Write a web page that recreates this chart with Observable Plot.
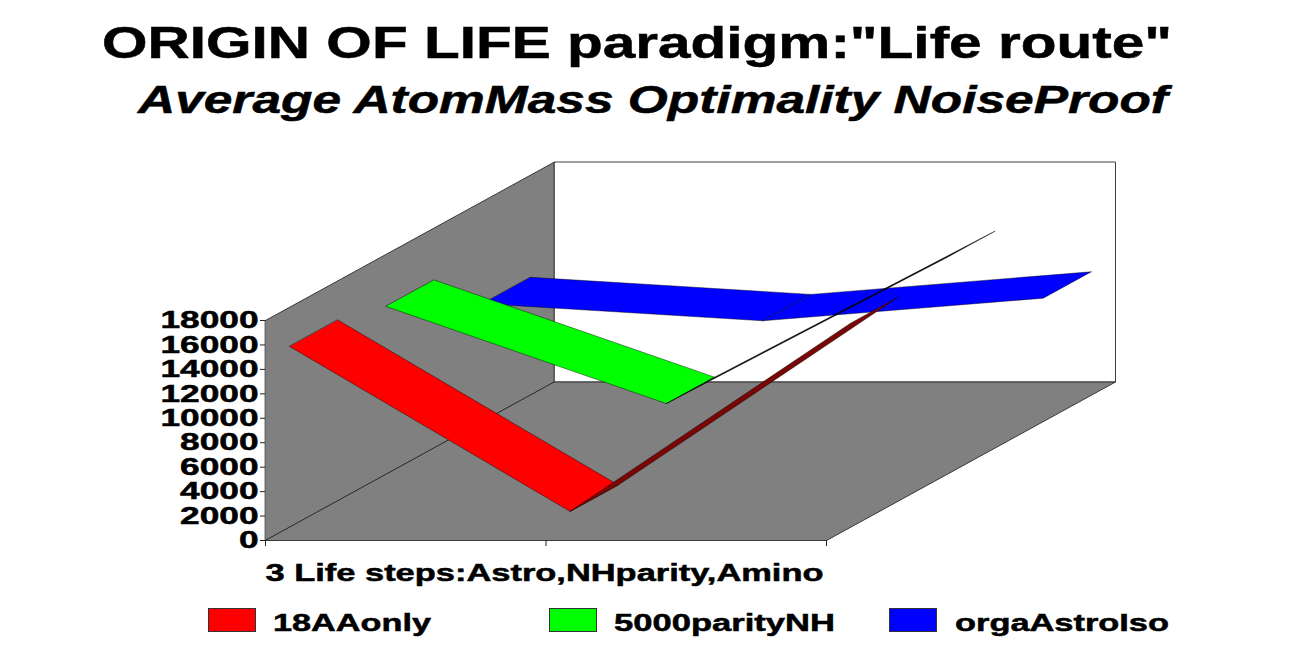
<!DOCTYPE html>
<html>
<head>
<meta charset="utf-8">
<script src="https://cdn.jsdelivr.net/npm/d3@7"></script>
<script src="https://cdn.jsdelivr.net/npm/@observablehq/plot@0.6"></script>
<style>
html,body{margin:0;padding:0;background:#fff;overflow:hidden}
#page{position:relative;width:1306px;height:660px;font-family:"Liberation Sans",Arial,sans-serif;font-weight:bold;color:#000}
#page span.t{position:absolute;white-space:nowrap;transform-origin:0 0;line-height:1;-webkit-text-stroke:0.5px #000}
#page span.s{position:absolute;box-sizing:border-box;border:1px solid #333}
#chart{position:absolute;left:0;top:140px}
svg text{font-family:"Liberation Sans",Arial,sans-serif;stroke:#000;stroke-width:0.5px}
</style>
</head>
<body>
<div id="page"><div id="chart"></div></div>
<script>
const titleText = 'ORIGIN OF LIFE paradigm:"Life route"';
const subtitleText = "Average AtomMass Optimality NoiseProof";
const xTitle = "3 Life steps:Astro,NHparity,Amino";
const categories = ["Astro", "NHparity", "Amino"];
const seriesNames = ["18AAonly", "5000parityNH", "orgaAstroIso"];
const aaOnly = [14800, 1300, 16700];
const parityNH = [13750, 5800, 17750];
const orgaAstro = [9650, 8250, 10100];
const yTicks = [0, 2000, 4000, 6000, 8000, 10000, 12000, 14000, 16000, 18000];
const seriesColors = ["#ff0000", "#00ff00", "#0000ff"];
const segmentFills = [["#ff0000", "#7a0606"], ["#00ff00", "#000000"], ["#0000ff", "#0000ff"]];
const seriesValues = [aaOnly, parityNH, orgaAstro];

// oblique projection: depth 0..1 shifts a point along the chart's receding axis
const depthCat = 289 / 280.5;
const depthVal = 158.5 / 220 * 18000;
const lastCat = categories.length - 1;
const yMax = yTicks[yTicks.length - 1];
const proj = (cat, depth, value) => ({x: cat + depth * depthCat, y: value + depth * depthVal});

const poly = (pts, o) => Plot.line(pts, {x: "x", y: "y", curve: "linear-closed", ...o});

const wallStroke = {stroke: "#2a2a2a", strokeWidth: 0.9};
const walls = [
  poly([proj(0,0,0), proj(0,1,0), proj(0,1,yMax), proj(0,0,yMax)], {fill: "#808080", ...wallStroke}),
  poly([proj(0,1,0), proj(lastCat,1,0), proj(lastCat,1,yMax), proj(0,1,yMax)], {fill: "#ffffff", ...wallStroke}),
  poly([proj(0,0,0), proj(lastCat,0,0), proj(lastCat,1,0), proj(0,1,0)], {fill: "#808080", ...wallStroke})
];

const ribbons = [];
for (let s = seriesValues.length - 1; s >= 0; s--) {
  const d0 = (4 * s + 1) / 12, d1 = (4 * s + 3) / 12, v = seriesValues[s];
  for (let j = 0; j < v.length - 1; j++) {
    ribbons.push(poly(
      [proj(j,d0,v[j]), proj(j+1,d0,v[j+1]), proj(j+1,d1,v[j+1]), proj(j,d1,v[j])],
      {fill: segmentFills[s][j], stroke: "#000000", strokeOpacity: 0.55, strokeWidth: 0.8}
    ));
  }
}

const plot = Plot.plot({
  width: 1306, height: 450,
  marginLeft: 265, marginRight: 480, marginTop: 180, marginBottom: 50,
  x: {domain: [0, lastCat], axis: null},
  y: {domain: [0, yMax], axis: null},
  style: {background: "transparent", overflow: "visible"},
  marks: [
    ...walls,
    ...ribbons,
    Plot.axisY({ticks: yTicks, tickFormat: "d", tickSize: 5, tickPadding: 2, label: null, fontSize: 24, fontWeight: "bold", stroke: "#222"}),
    Plot.axisX({ticks: categories.map((c, i) => i), tickFormat: () => "", tickSize: 6, label: null, stroke: "#222"}),
    Plot.text([xTitle], {frameAnchor: "bottom-left", dy: 33, lineAnchor: "middle", fontSize: 24, fontWeight: "bold", fill: "#000"})
  ]
});
document.getElementById("chart").appendChild(plot);

// the reference is horizontally stretched: widen the real text to match
plot.querySelectorAll("text").forEach(t => {
  if (!t.textContent.trim()) return;
  const len = t.getComputedTextLength();
  t.setAttribute("textLength", t.textContent === xTitle ? 558 : len * 1.47);
  t.setAttribute("lengthAdjust", "spacingAndGlyphs");
});

const page = document.getElementById("page");
function label(text, left, top, size, width, italic) {
  const e = document.createElement("span");
  e.className = "t";
  e.textContent = text;
  e.style.left = left + "px";
  e.style.top = top + "px";
  e.style.fontSize = size + "px";
  if (italic) e.style.fontStyle = "italic";
  page.appendChild(e);
  e.style.transform = `scaleX(${width / e.getBoundingClientRect().width})`;
}
label(titleText, 102, 20, 45, 1070);
label(subtitleText, 138, 81, 38, 1030, true);

const legendLeft = [208, 549, 889];
const legendText = [273, 614, 955];
const legendWidth = [158, 221, 214];
seriesNames.forEach((name, i) => {
  const sw = document.createElement("span");
  sw.className = "s";
  sw.style.cssText = `left:${legendLeft[i]}px;top:608px;width:48px;height:24px;background:${seriesColors[i]}`;
  page.appendChild(sw);
  label(name, legendText[i], 611, 24, legendWidth[i]);
});
</script>
</body>
</html>
